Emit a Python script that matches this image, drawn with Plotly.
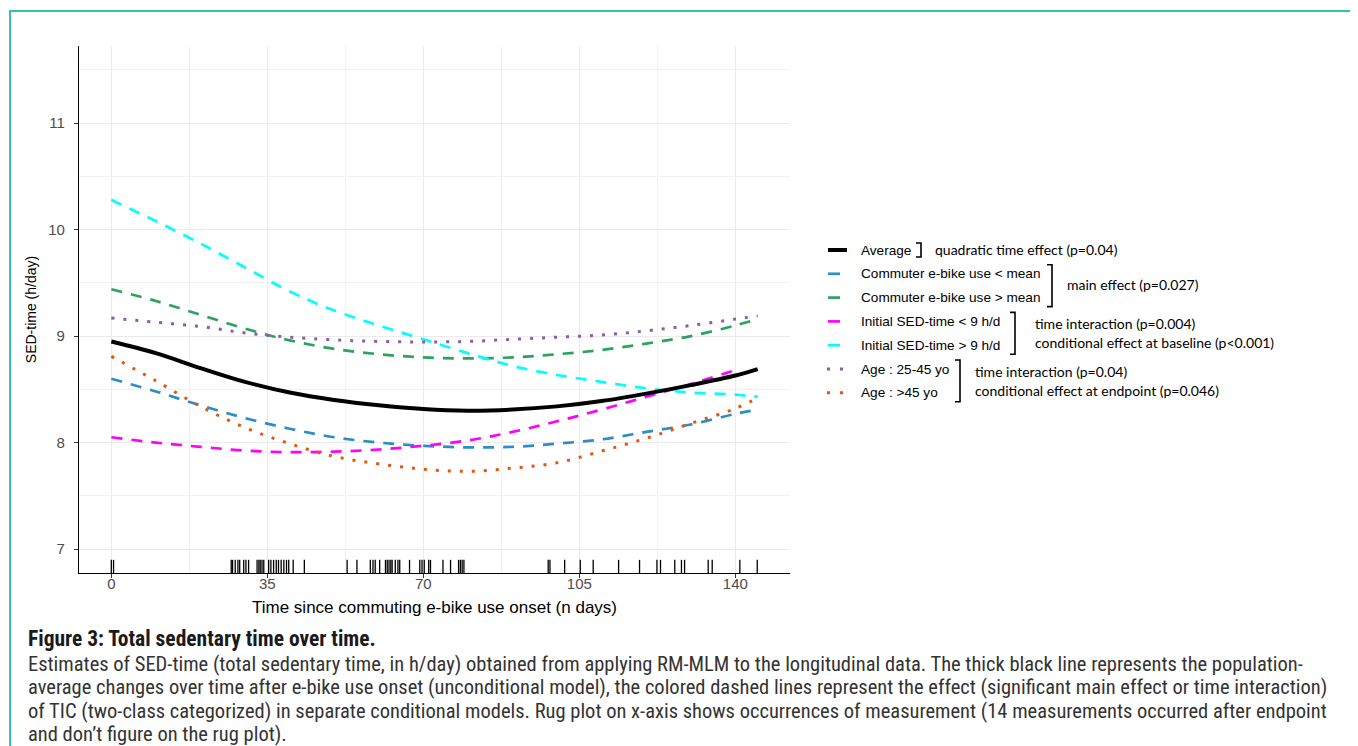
import plotly.graph_objects as go

# ---------------- data ----------------
days = [0, 10, 20, 30, 40, 50, 60, 70, 80, 90, 100, 110, 120, 130, 140, 145]
days_to_140 = [0, 10, 20, 30, 40, 50, 60, 70, 80, 90, 100, 110, 120, 130, 140]

average = [8.95, 8.84, 8.70, 8.57, 8.47, 8.40, 8.35, 8.315, 8.30, 8.31, 8.34, 8.39, 8.46, 8.54, 8.63, 8.69]
commuter_low = [8.60, 8.48, 8.35, 8.23, 8.13, 8.05, 8.00, 7.97, 7.955, 7.96, 7.99, 8.03, 8.10, 8.17, 8.27, 8.31]
commuter_high = [9.44, 9.33, 9.20, 9.07, 8.96, 8.88, 8.83, 8.80, 8.79, 8.80, 8.83, 8.87, 8.93, 9.00, 9.10, 9.16]
sed_low = [8.05, 8.00, 7.96, 7.925, 7.91, 7.915, 7.935, 7.97, 8.02, 8.10, 8.20, 8.31, 8.43, 8.55, 8.68]
sed_high = [10.28, 10.08, 9.87, 9.645, 9.42, 9.24, 9.10, 8.97, 8.84, 8.72, 8.635, 8.57, 8.51, 8.47, 8.45, 8.43]
age_young = [9.17, 9.13, 9.09, 9.03, 8.99, 8.965, 8.95, 8.945, 8.95, 8.97, 8.99, 9.01, 9.05, 9.10, 9.16, 9.19]
age_old = [8.81, 8.58, 8.34, 8.14, 7.99, 7.87, 7.80, 7.75, 7.73, 7.76, 7.81, 7.92, 8.04, 8.18, 8.32, 8.42]

rug_days = [0, 0.5, 26.9, 27.2, 27.8, 28.4, 28.8, 29.7, 30.2, 30.8, 32.7, 33.1, 33.4, 33.8, 34.2,
            35.3, 35.8, 36.4, 37.0, 37.5, 38.1, 38.7, 39.3, 39.8, 40.8, 43.3, 52.9, 55.1, 58.1,
            58.7, 59.2, 60.2, 61.5, 61.9, 62.3, 62.7, 63.0, 63.7, 64.3, 64.7, 66.9, 69.2, 69.7,
            70.2, 71.2, 71.6, 74.4, 76.1, 77.9, 78.3, 78.7, 79.1, 98.0, 98.4, 101.7, 105.2,
            108.1, 113.8, 118.5, 122.4, 123.2, 126.4, 127.9, 128.6, 133.9, 134.8, 141.0, 144.9]

x_ticks = [0, 35, 70, 105, 140]
y_ticks = [7, 8, 9, 10, 11]

labels = ["Average", "Commuter e-bike use < mean", "Commuter e-bike use > mean",
          "Initial SED-time < 9 h/d", "Initial SED-time > 9 h/d", "Age : 25-45 yo", "Age : >45 yo"]

group_notes = [
    ["quadratic time effect (p=0.04)"],
    ["main effect (p=0.027)"],
    ["time interaction (p=0.004)", "conditional effect at baseline (p<0.001)"],
    ["time interaction (p=0.04)", "conditional effect at endpoint (p=0.046)"],
]

caption_title = "Figure 3: Total sedentary time over time."
caption_lines = [
    "Estimates of SED-time (total sedentary time, in h/day) obtained from applying RM-MLM to the longitudinal data. The thick black line represents the population-",
    "average changes over time after e-bike use onset (unconditional model), the colored dashed lines represent the effect (significant main effect or time interaction)",
    "of TIC (two-class categorized) in separate conditional models. Rug plot on x-axis shows occurrences of measurement (14 measurements occurred after endpoint",
    "and don\u2019t figure on the rug plot).",
]

# ---------------- styles ----------------
DASH = "11px,9px"
DOT = "3px,9px"
series = [
    # (label index, x, y, color, width, dash)
    (1, days, commuter_low, "#2C8DC9", 2.7, DASH),
    (2, days, commuter_high, "#2CA25F", 2.7, DASH),
    (3, days_to_140, sed_low, "#FF00FF", 2.7, DASH),
    (4, days, sed_high, "#00FFFF", 2.7, DASH),
    (5, days, age_young, "#8B5BAF", 3, DOT),
    (6, days, age_old, "#E6550D", 3, DOT),
    (0, days, average, "#000000", 4, "solid"),
]

X_RANGE = [-7.25, 152.25]
Y_RANGE = [6.775, 11.725]

# page offset of the figure (body margin) and plot box in page pixels
OFF = 8
FW, FH = 1358 - OFF, 746 - OFF
PL, PR, PT, PB = 79 - OFF, 790 - OFF, 46 - OFF, 573 - OFF

NARROW = "Roboto Condensed, Liberation Sans Narrow, Arial Narrow, sans-serif"
SANS = "Liberation Sans, Arial, sans-serif"


def px(x):
    """page x pixel -> paper coordinate"""
    return (x - OFF - PL) / (PR - PL)


def py(y):
    """page y pixel -> paper coordinate"""
    return (PB - (y - OFF)) / (PB - PT)


fig = go.Figure()

for idx, xs, ys, color, width, dash in series:
    fig.add_trace(go.Scatter(
        x=xs, y=ys, mode="lines", name=labels[idx],
        line=dict(color=color, width=width, dash=dash, shape="spline", smoothing=1.0),
        showlegend=False, hoverinfo="skip"))

# rug plot on an overlaid [0,1] axis
rx, ry = [], []
for d in rug_days:
    rx += [d, d, None]
    ry += [0, 0.025, None]
fig.add_trace(go.Scatter(x=rx, y=ry, yaxis="y2", mode="lines",
                         line=dict(color="black", width=1.3),
                         showlegend=False, hoverinfo="skip"))

GRID = "#EBEBEB"
fig.update_layout(
    width=FW, height=FH, autosize=False,
    margin=dict(l=PL, r=FW - PR, t=PT, b=FH - PB, pad=0),
    paper_bgcolor="white", plot_bgcolor="white",
    font=dict(family=SANS, color="#4D4D4D"),
    xaxis=dict(range=X_RANGE, tickvals=x_ticks, ticktext=[str(v) for v in x_ticks],
               showgrid=True, gridcolor=GRID, gridwidth=1.1, zeroline=False,
               showline=True, linecolor="black", linewidth=1.3,
               ticks="outside", ticklen=4, tickcolor="#333333", tickwidth=1.1,
               ticklabelstandoff=-7,
               tickfont=dict(family=SANS, size=15, color="#4D4D4D"),
               minor=dict(dtick=17.5, tick0=0, showgrid=True, gridcolor="#F2F2F2", gridwidth=0.8),
               title=dict(text="Time since commuting e-bike use onset (n days)",
                          font=dict(family=SANS, size=17, color="black"), standoff=9)),
    yaxis=dict(range=Y_RANGE, tickvals=y_ticks, ticktext=[str(v) for v in y_ticks],
               showgrid=True, gridcolor=GRID, gridwidth=1.1, zeroline=False,
               showline=True, linecolor="black", linewidth=1.3,
               ticks="outside", ticklen=4, tickcolor="#333333", tickwidth=1.1,
               ticklabelstandoff=6,
               tickfont=dict(family=SANS, size=15, color="#4D4D4D"),
               minor=dict(dtick=0.5, tick0=7, showgrid=True, gridcolor="#F2F2F2", gridwidth=0.8),
               title=dict(text="SED-time (h/day)", font=dict(family=SANS, size=14, color="black"),
                          standoff=8)),
    yaxis2=dict(range=[0, 1], overlaying="y", visible=False, fixedrange=True),
    showlegend=False,
)

shapes = []
annotations = []

# outer teal frame
shapes.append(dict(type="rect", xref="paper", yref="paper",
                   x0=px(10), x1=px(1370), y0=py(11), y1=py(770),
                   line=dict(color="#35C3A8", width=2), fillcolor="rgba(0,0,0,0)", layer="below"))

# manual legend
ROW0, ROWSTEP = 250, 23.8
row_y = [ROW0 + i * ROWSTEP for i in range(len(labels))]
style_by_label = {s[0]: s for s in series}
for i, lab in enumerate(labels):
    _, _, _, color, width, dash = style_by_label[i]
    y = row_y[i]
    if dash == "solid":
        x0, x1, dsh = 828, 847, "solid"
    elif dash == DASH:
        x0, x1, dsh = 828, 840, "solid"
    else:
        x0, x1, dsh = 827, 845, "3px,10px"
    shapes.append(dict(type="line", xref="paper", yref="paper",
                       x0=px(x0), x1=px(x1), y0=py(y), y1=py(y),
                       line=dict(color=color, width=width if dash != DOT else 3, dash=dsh)))
    annotations.append(dict(text=lab, xref="paper", yref="paper", x=px(859), y=py(y),
                            xanchor="left", yanchor="middle", showarrow=False,
                            font=dict(family=SANS, size=13.6, color="black")))

# brackets and notes: (first row, last row, bracket x, text x)
bracket_layout = [(0, 0, 921, 933), (1, 2, 1052, 1065), (3, 4, 1015, 1033), (5, 6, 960, 973)]
for (r0, r1, bx, tx), notes in zip(bracket_layout, group_notes):
    top = row_y[r0] - 7 if r0 == r1 else row_y[r0] - 9
    bot = row_y[r1] + 7 if r0 == r1 else row_y[r1] + 9
    path = "M {a},{t} L {b},{t} L {b},{u} L {a},{u}".format(
        a=px(bx - 5), b=px(bx), t=py(top), u=py(bot))
    shapes.append(dict(type="path", xref="paper", yref="paper", path=path,
                       line=dict(color="black", width=1.6)))
    mid = (top + bot) / 2
    if len(notes) == 1:
        ys = [mid - 1]
    else:
        ys = [mid - 9.5, mid + 9.5]
    for note, yy in zip(notes, ys):
        annotations.append(dict(text=note, xref="paper", yref="paper", x=px(tx), y=py(yy),
                                xanchor="left", yanchor="middle", showarrow=False,
                                font=dict(family="Lato, Carlito, sans-serif", size=14, color="black")))

# caption
annotations.append(dict(text="<b>" + caption_title + "</b>", xref="paper", yref="paper",
                        x=px(26), y=py(638), xanchor="left", yanchor="middle", showarrow=False,
                        font=dict(family=NARROW, size=21.5, color="#1a1a1a")))
for k, line in enumerate(caption_lines):
    annotations.append(dict(text=line, xref="paper", yref="paper",
                            x=px(26), y=py(664 + k * 23.4), xanchor="left", yanchor="middle",
                            showarrow=False, font=dict(family=NARROW, size=20.5, color="#333333")))

fig.update_layout(shapes=shapes, annotations=annotations)
fig.write_html("out.html")
